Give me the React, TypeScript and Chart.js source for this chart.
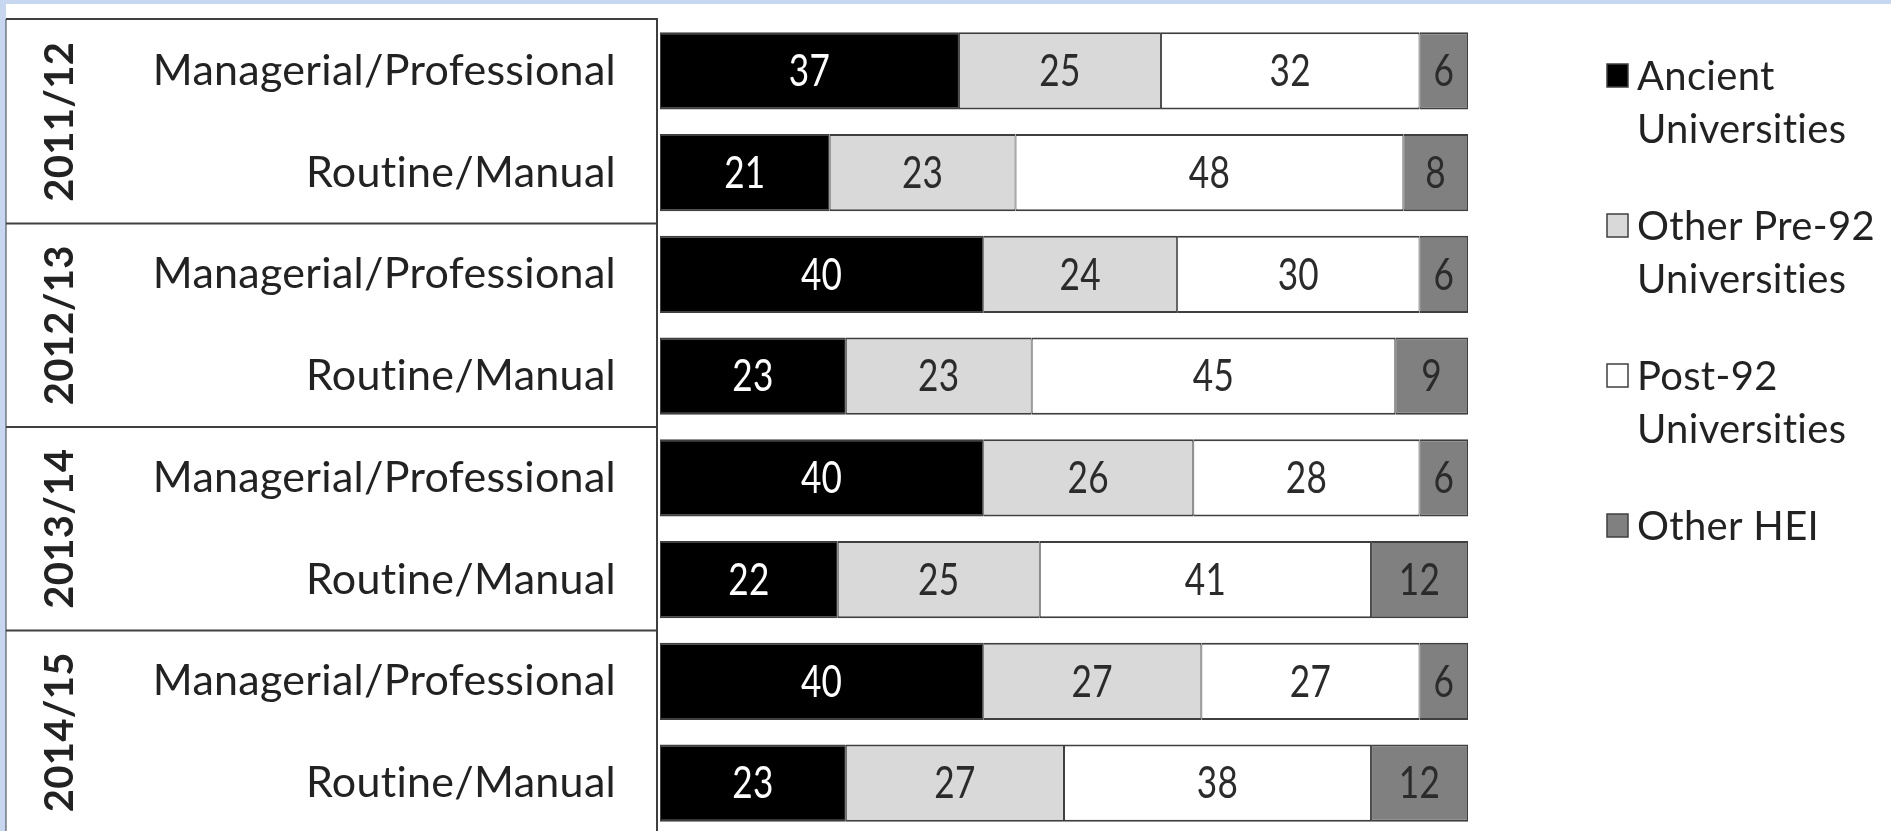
import React, { useEffect, useRef } from "react";
import { Chart, registerables } from "chart.js";

Chart.register(...registerables);

// ---- data ----
const years = ["2011/12", "2012/13", "2013/14", "2014/15"];
const classes = ["Managerial/Professional", "Routine/Manual"];
const categories = years.flatMap(() => classes);

const ancient = [37, 21, 40, 23, 40, 22, 40, 23];
const otherPre92 = [25, 23, 24, 23, 26, 25, 27, 27];
const post92 = [32, 48, 30, 45, 28, 41, 27, 38];
const otherHEI = [6, 8, 6, 9, 6, 12, 6, 12];

const seriesLabels = [
  ["Ancient", "Universities"],
  ["Other Pre-92", "Universities"],
  ["Post-92", "Universities"],
  ["Other HEI"],
];
const seriesColors = ["#000000", "#d9d9d9", "#ffffff", "#808080"];
const labelColors = ["#ffffff", "#2b2b2b", "#2b2b2b", "#2b2b2b"];

const FONT = "Lato, 'Open Sans', sans-serif";
const TEXT = "#222222";
const LINE = "#3f3f3f";

const W = 1891;
const H = 834;

const spacingPlugin = {
  id: "spacing",
  beforeDraw(chart: any) {
    // a tiny letter spacing turns off the "ti" ligature, like Calibri in the original
    (chart.ctx as any).letterSpacing = "0.3px";
  },
};

const decorPlugin = {
  id: "decor",
  afterDraw(chart: any) {
    const ctx = chart.ctx as CanvasRenderingContext2D;
    (ctx as any).letterSpacing = "0.3px";
    const area = chart.chartArea;
    const yScale = chart.scales.y;

    // table frame
    ctx.save();
    ctx.strokeStyle = LINE;
    ctx.lineWidth = 2;
    const boxLeft = 6;
    const boxRight = area.left - 3;
    const top = area.top - 1;
    ctx.beginPath();
    ctx.moveTo(boxLeft, top);
    ctx.lineTo(boxRight, top);
    ctx.lineTo(boxRight, chart.height);
    ctx.stroke();
    for (let g = 1; g < years.length; g++) {
      const yb = (yScale.getPixelForValue(2 * g - 1) + yScale.getPixelForValue(2 * g)) / 2;
      ctx.beginPath();
      ctx.moveTo(boxLeft, yb);
      ctx.lineTo(boxRight, yb);
      ctx.stroke();
    }
    ctx.lineWidth = 1;
    ctx.beginPath();
    ctx.moveTo(boxLeft, top);
    ctx.lineTo(boxLeft, chart.height);
    ctx.stroke();
    ctx.restore();

    // year labels (rotated)
    ctx.save();
    ctx.fillStyle = TEXT;
    ctx.font = `bold 40px ${FONT}`;
    ctx.textAlign = "center";
    ctx.textBaseline = "middle";
    years.forEach((yr, g) => {
      const yc = (yScale.getPixelForValue(2 * g) + yScale.getPixelForValue(2 * g + 1)) / 2;
      ctx.save();
      ctx.translate(60, yc);
      ctx.rotate(-Math.PI / 2);
      ctx.fillText(yr, 0, 0);
      ctx.restore();
    });
    ctx.restore();

    // value labels (slightly condensed, like the original)
    ctx.save();
    ctx.font = `44px ${FONT}`;
    ctx.textAlign = "center";
    ctx.textBaseline = "middle";
    chart.data.datasets.forEach((ds: any, i: number) => {
      const meta = chart.getDatasetMeta(i);
      meta.data.forEach((el: any, j: number) => {
        const cx = (el.x + el.base) / 2;
        ctx.save();
        ctx.translate(cx, el.y + 1);
        ctx.scale(0.8, 1);
        ctx.fillStyle = labelColors[i];
        ctx.fillText(String(ds.data[j]), 0, 0);
        ctx.restore();
      });
    });
    ctx.restore();

    // legend
    ctx.save();
    ctx.font = `40px ${FONT}`;
    ctx.textAlign = "left";
    ctx.textBaseline = "alphabetic";
    chart.data.datasets.forEach((ds: any, i: number) => {
      const base = 90 + i * 150;
      ctx.fillStyle = ds.backgroundColor;
      ctx.fillRect(1607, base - 26, 21, 23);
      ctx.strokeStyle = LINE;
      ctx.lineWidth = 1.5;
      ctx.strokeRect(1607, base - 26, 21, 23);
      ctx.fillStyle = TEXT;
      (ds.legendLines as string[]).forEach((t, k) => {
        ctx.fillText(t, 1637, base + k * 53);
      });
    });
    ctx.restore();
  },
};

export default function App() {
  const ref = useRef<HTMLCanvasElement | null>(null);

  useEffect(() => {
    let chart: Chart | null = null;
    let cancelled = false;
    const make = () => {
      if (cancelled || !ref.current) return;
      const series = [ancient, otherPre92, post92, otherHEI];
      chart = new Chart(ref.current, {
        type: "bar",
        data: {
          labels: categories,
          datasets: series.map((d, i) => ({
            label: seriesLabels[i].join(" "),
            legendLines: seriesLabels[i],
            data: d,
            backgroundColor: seriesColors[i],
            borderColor: LINE,
            borderWidth: { top: 2, bottom: 2, left: 1, right: 1 },
            borderSkipped: false,
            categoryPercentage: 0.76,
            barPercentage: 1,
          })) as any,
        },
        options: {
          indexAxis: "y",
          responsive: false,
          animation: false,
          layout: { padding: { top: 20, right: W - 1468, bottom: 0, left: 0 } },
          plugins: { legend: { display: false }, tooltip: { enabled: false } },
          scales: {
            x: { stacked: true, min: 0, max: 100, display: false },
            y: {
              stacked: true,
              grid: { display: false, drawTicks: false },
              border: { display: false },
              ticks: {
                color: TEXT,
                padding: 44,
                font: { family: FONT, size: 43 },
              },
              afterFit: (s: any) => {
                s.width = 660;
                s.paddingTop = 0;
                s.paddingBottom = 0;
              },
            },
          },
        } as any,
        plugins: [spacingPlugin, decorPlugin],
      });
    };
    if ((document as any).fonts && (document as any).fonts.load) {
      Promise.all([
        document.fonts.load(`40px Lato`),
        document.fonts.load(`bold 40px Lato`),
      ])
        .catch(() => null)
        .then(make);
    } else {
      make();
    }
    return () => {
      cancelled = true;
      if (chart) chart.destroy();
    };
  }, []);

  return (
    <div
      style={{
        position: "fixed",
        left: 0,
        top: 0,
        width: W,
        height: 831,
        overflow: "hidden",
        background: "#c6d7ef",
      }}
    >
      <div
        style={{
          position: "absolute",
          left: 6,
          top: 4,
          right: 0,
          bottom: 0,
          background: "#ffffff",
        }}
      />
      <canvas
        ref={ref}
        width={W}
        height={H}
        style={{ position: "absolute", left: 0, top: 0, width: W, height: H }}
      />
    </div>
  );
}
